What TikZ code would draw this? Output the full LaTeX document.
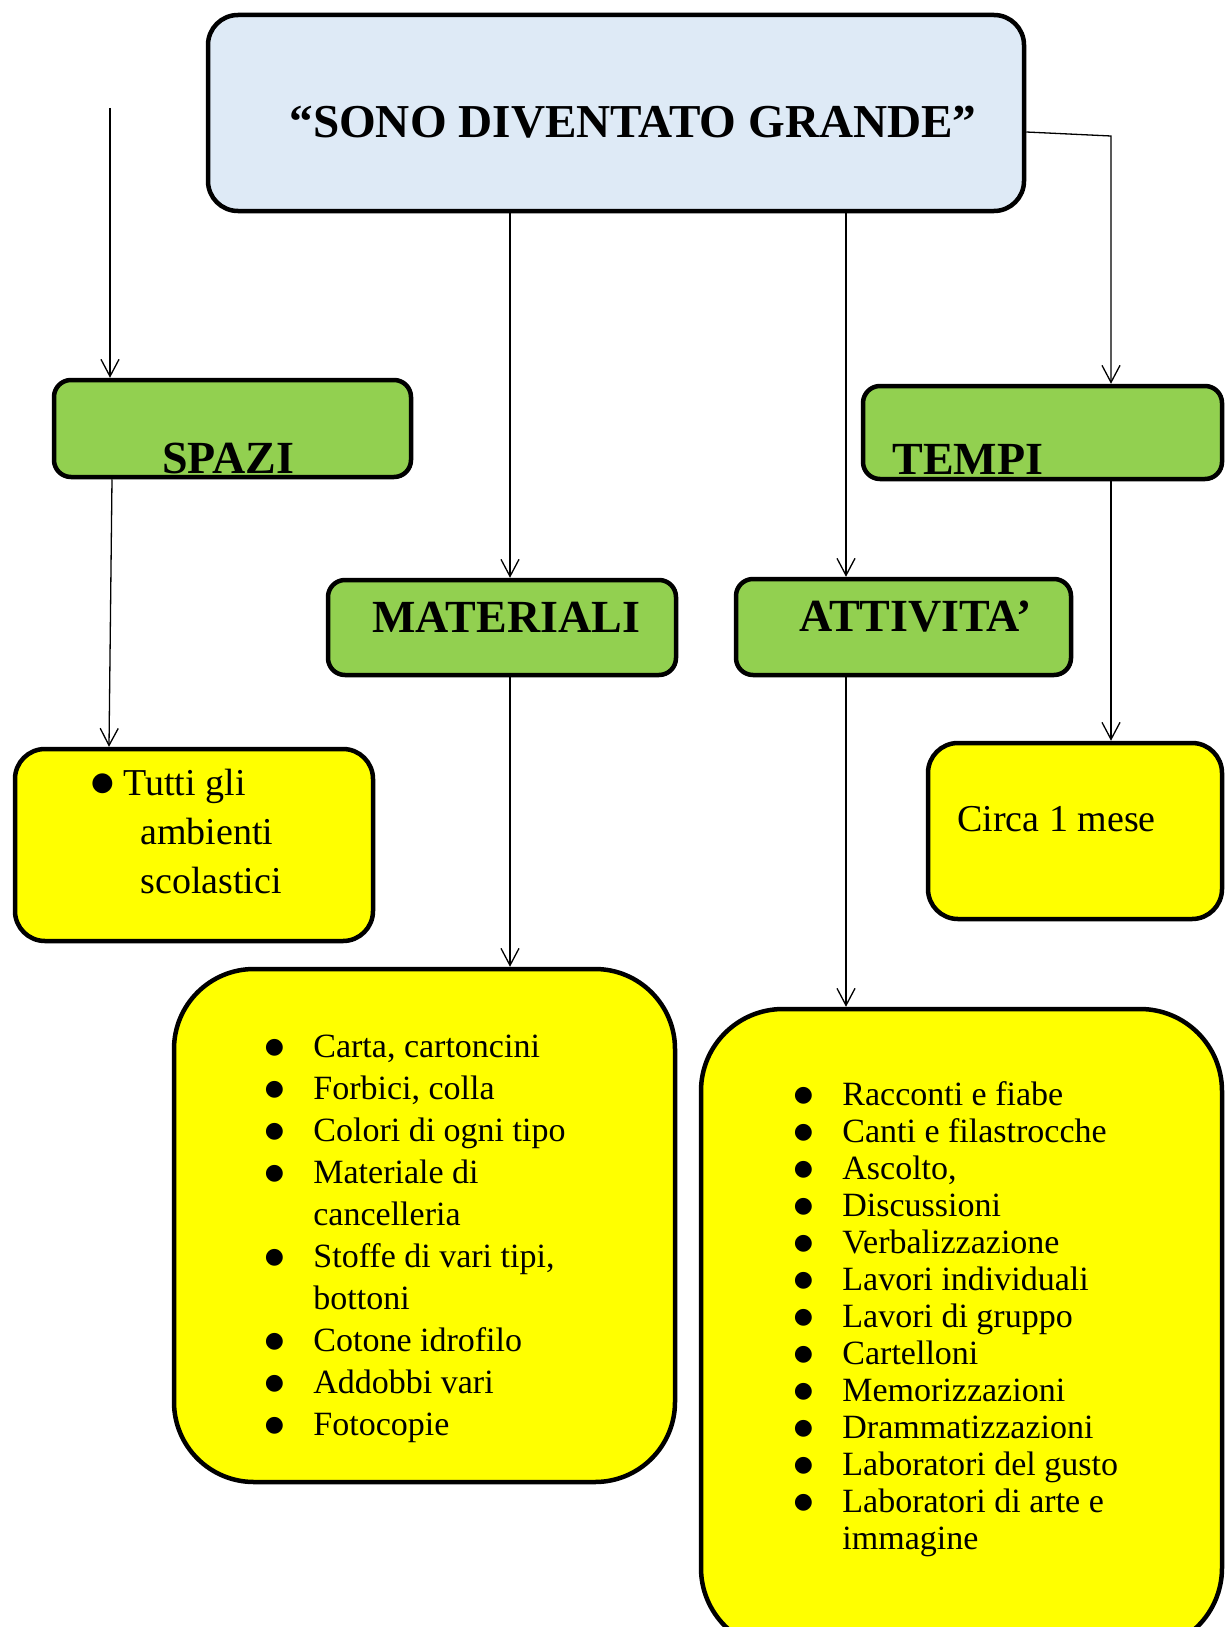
\documentclass[tikz,border=0pt]{standalone}
\usepackage{fontspec}
\setmainfont{Liberation Serif}
\newfontfamily\symfont{DejaVu Sans}
\usetikzlibrary{arrows.meta}
\definecolor{titlebg}{HTML}{DEEAF6}
\definecolor{greenbg}{HTML}{92D050}
\definecolor{yellowbg}{HTML}{FFFF00}
\newcommand{\bbul}{\makebox[6pt][c]{\raisebox{2pt}{\symfont\fontsize{11pt}{11pt}\selectfont ●}}}
\newcommand{\tbul}{\makebox[6pt][c]{\raisebox{2.5pt}{\symfont\fontsize{13pt}{13pt}\selectfont ●}}}
\begin{document}
\begin{tikzpicture}[x=0.5pt,y=-0.5pt,
  box/.style={draw=black, line width=2.25pt, inner sep=0pt},
  titlebox/.style={box, fill=titlebg, rounded corners=15pt},
  greenbox/.style={box, fill=greenbg, rounded corners=8.5pt},
  yellowbox/.style={box, fill=yellowbg, rounded corners=15pt},
  bigbox/.style={box, fill=yellowbg, rounded corners=40pt},
  arr/.style={draw=black, line width=0.65pt, -{Straight Barb[length=8.5pt,width=9pt]}},
  head/.style={inner sep=0pt, anchor=base west, font=\bfseries\fontsize{23pt}{27pt}\selectfont},
  txt/.style={inner sep=0pt, anchor=base west, font=\fontsize{19pt}{23pt}\selectfont},
  listtxt/.style={inner sep=0pt, anchor=base west, font=\fontsize{17pt}{21pt}\selectfont},
  listtxtb/.style={inner sep=0pt, anchor=base west, font=\fontsize{17pt}{18.5pt}\selectfont},
]
\useasboundingbox (0,0) rectangle (1229,1627);
\fill[white] (0,0) rectangle (1229,1627);

% boxes
\node[titlebox, minimum width=408pt, minimum height=98pt] (main) at (616,113) {};
\node[greenbox, minimum width=178.5pt, minimum height=48.5pt] (spazi) at (232.5,428.5) {};
\node[greenbox, minimum width=179.5pt, minimum height=46.5pt] (tempi) at (1042.5,432.5) {};
\node[greenbox, minimum width=174pt, minimum height=47.5pt] (mat) at (502,627.5) {};
\node[greenbox, minimum width=167.5pt, minimum height=48pt] (att) at (903.5,627) {};
\node[yellowbox, minimum width=179pt, minimum height=96pt] (tutti) at (194,845) {};
\node[yellowbox, minimum width=147pt, minimum height=88pt] (circa) at (1075,831) {};
\node[bigbox, minimum width=250.5pt, minimum height=256.5pt] (matlist) at (424.5,1225.5) {};
\node[bigbox, rounded corners=41pt, minimum width=260.5pt, minimum height=320.5pt] (actlist) at (961.5,1329.5) {};

% texts
\node[head, font=\bfseries\fontsize{23.6pt}{27pt}\selectfont] (title) at (289,138) {“SONO DIVENTATO GRANDE”};
\node[head] (tspazi) at (162,473) {SPAZI};
\node[head] (ttempi) at (892,474) {TEMPI};
\node[head] (tmat) at (372,632) {MATERIALI};
\node[head] (tatt) at (799,631) {ATTIVITA’};
\node[txt] (tcirca) at (957,831) {Circa 1 mese};
\node[txt] (bul) at (96,795) {\tbul};
\node[txt] (tut1) at (123,795) {Tutti gli};
\node[txt] (tut2) at (140,844) {ambienti};
\node[txt] (tut3) at (140,893) {scolastici};

\node[listtxt] (mlist) at (268,1057) {\begin{tabular}[t]{@{}p{22.5pt}@{}l@{}}
\bbul & Carta, cartoncini\\
\bbul & Forbici, colla\\
\bbul & Colori di ogni tipo\\
\bbul & Materiale di\\
  & cancelleria\\
\bbul & Stoffe di vari tipi,\\
  & bottoni\\
\bbul & Cotone idrofilo\\
\bbul & Addobbi vari\\
\bbul & Fotocopie
\end{tabular}};

\node[listtxtb] (alist) at (797,1105) {\begin{tabular}[t]{@{}p{22.5pt}@{}l@{}}
\bbul & Racconti e fiabe\\
\bbul & Canti e filastrocche\\
\bbul & Ascolto,\\
\bbul & Discussioni\\
\bbul & Verbalizzazione\\
\bbul & Lavori individuali\\
\bbul & Lavori di gruppo\\
\bbul & Cartelloni\\
\bbul & Memorizzazioni\\
\bbul & Drammatizzazioni\\
\bbul & Laboratori del gusto\\
\bbul & Laboratori di arte e\\
  & immagine
\end{tabular}};

% connectors
\coordinate (s0) at (110,108);
\coordinate (xa1) at (112,0);
\coordinate (xa2) at (109,0);
\coordinate (xm) at (510,0);
\coordinate (xt) at (846,0);
\coordinate (k) at (1111,136);

\draw[arr] (s0) -- (s0 |- spazi.north);
\draw[arr] (spazi.south -| xa1) -- (tutti.north -| xa2);
\draw[arr] (main.south -| xm) -- (mat.north -| xm);
\draw[arr] (mat.south -| xm) -- (matlist.north -| xm);
\draw[arr] (main.south -| xt) -- (att.north -| xt);
\draw[arr] (att.south -| xt) -- (actlist.north -| xt);
\draw[arr] ([yshift=-9.5pt]main.east) -- (k) -- (k |- tempi.north);
\draw[arr] (tempi.south -| k) -- (k |- circa.north);
\end{tikzpicture}
\end{document}
